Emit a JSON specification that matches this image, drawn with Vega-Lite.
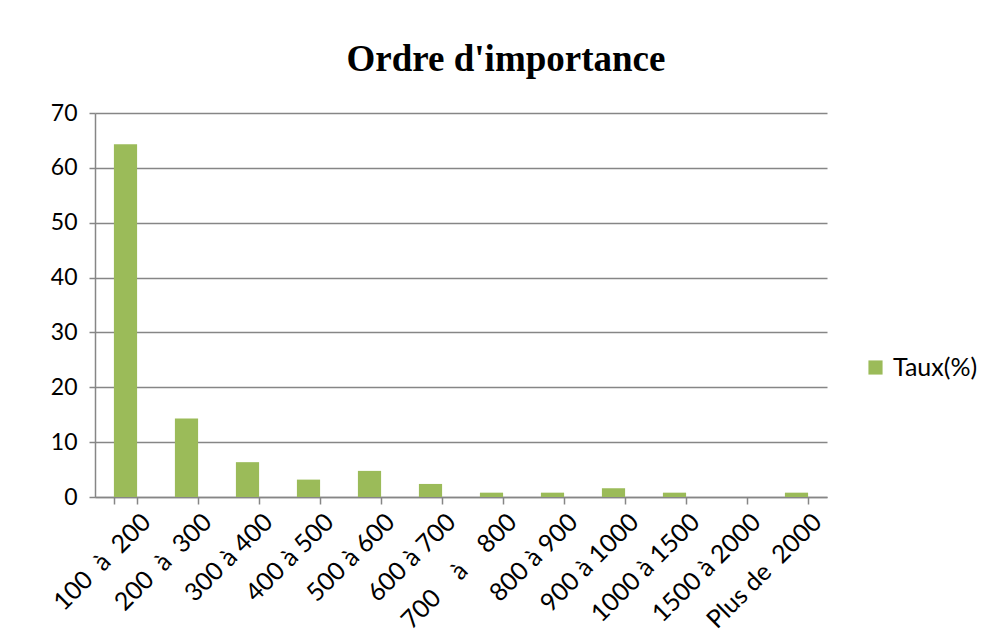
{
  "$schema": "https://vega.github.io/schema/vega-lite/v6.json",
  "autosize": {"type": "none"},
  "width": 732,
  "height": 384,
  "padding": {"left": 95, "top": 113, "right": 162, "bottom": 145},
  "background": "white",
  "title": {
    "text": "Ordre d'importance",
    "font": "Liberation Serif",
    "fontSize": 37,
    "fontWeight": "bold",
    "color": "black",
    "anchor": "middle",
    "dx": 45,
    "offset": 23
  },
  "data": {
    "values": [
      {"classe": "100\u00a0\u00a0à\u00a0\u00a0200", "serie": "Taux(%)", "taux": 64.29},
      {"classe": "200\u00a0\u00a0à\u00a0\u00a0300", "serie": "Taux(%)", "taux": 14.29},
      {"classe": "300 à 400", "serie": "Taux(%)", "taux": 6.35},
      {"classe": "400 à 500", "serie": "Taux(%)", "taux": 3.17},
      {"classe": "500 à 600", "serie": "Taux(%)", "taux": 4.76},
      {"classe": "600 à 700", "serie": "Taux(%)", "taux": 2.38},
      {"classe": "700\u00a0\u00a0\u00a0\u00a0à\u00a0\u00a0\u00a0\u00a0800", "serie": "Taux(%)", "taux": 0.79},
      {"classe": "800 à 900", "serie": "Taux(%)", "taux": 0.79},
      {"classe": "900 à 1000", "serie": "Taux(%)", "taux": 1.59},
      {"classe": "1000 à 1500", "serie": "Taux(%)", "taux": 0.79},
      {"classe": "1500 à 2000", "serie": "Taux(%)", "taux": 0},
      {"classe": "Plus de\u00a0\u00a02000", "serie": "Taux(%)", "taux": 0.79}
    ]
  },
  "mark": {"type": "bar"},
  "encoding": {
    "x": {
      "field": "classe",
      "type": "nominal",
      "sort": null,
      "scale": {"paddingInner": 0.62, "paddingOuter": 0.31},
      "axis": {
        "title": null,
        "labelAngle": -45,
        "labelFont": "Lato",
        "labelFontSize": 25,
        "labelColor": "black",
        "labelPadding": 5,
        "labelOffset": 12,
        "labelOverlap": false,
        "tickBand": "extent",
        "tickColor": "#868686",
        "tickWidth": 1.5,
        "tickSize": 7,
        "domainColor": "#868686",
        "domainWidth": 1.5,
        "grid": false
      }
    },
    "y": {
      "field": "taux",
      "type": "quantitative",
      "scale": {"domain": [0, 70]},
      "axis": {
        "title": null,
        "values": [0, 10, 20, 30, 40, 50, 60, 70],
        "labelFont": "Lato",
        "labelFontSize": 23,
        "labelColor": "black",
        "labelPadding": 12,
        "tickColor": "#868686",
        "tickWidth": 1.5,
        "tickSize": 6,
        "domainColor": "#868686",
        "domainWidth": 1.5,
        "gridColor": "#868686",
        "gridWidth": 1.5
      }
    },
    "color": {
      "field": "serie",
      "type": "nominal",
      "scale": {"range": ["#9BBB59"]},
      "legend": {
        "title": null,
        "orient": "none",
        "legendX": 768,
        "legendY": 242,
        "symbolType": "square",
        "symbolSize": 200,
        "labelFont": "Lato",
        "labelFontSize": 25,
        "labelColor": "black",
        "labelOffset": 5
      }
    }
  },
  "config": {
    "view": {"stroke": null}
  }
}
